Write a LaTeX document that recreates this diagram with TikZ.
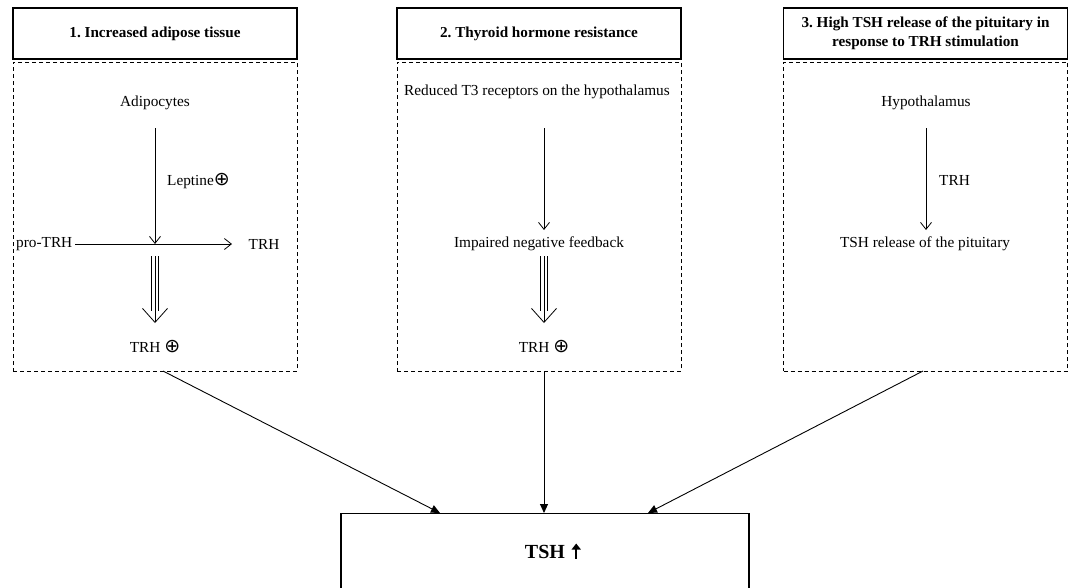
\documentclass[tikz,border=0pt]{standalone}
\usepackage{fontspec}
\setmainfont{Liberation Serif}
\newfontfamily\djv{DejaVu Sans}
\usetikzlibrary{arrows.meta}
\frenchspacing
\tikzset{
  titlebox/.style={draw, line width=1.1pt, minimum width=284pt, minimum height=51pt, align=center, font=\bfseries\fontsize{15.2}{19.5}\selectfont, inner sep=0pt},
  dashbox/.style={draw, line width=0.9pt, dash pattern=on 4pt off 3pt, minimum width=284pt, minimum height=309pt, inner sep=0pt},
  txt/.style={font=\fontsize{15.3}{18}\selectfont, inner sep=1pt},
  thinarrow/.style={line width=0.8pt, -{Straight Barb[length=7pt,width=11pt]}},
  shaft/.style={line width=0.7pt, double distance=6pt},
  openhead/.style={line width=0.8pt, -{Straight Barb[length=14pt,width=25pt]}},
  bigarrow/.style={line width=0.9pt, -{Triangle[length=9pt,width=8pt]}},
}
\newcommand{\plusc}{{\djv\fontsize{19}{18}\selectfont ⊕}}
\begin{document}
\begin{tikzpicture}[x=1pt,y=-1pt]
\useasboundingbox (0,0) rectangle (1072,587);
% titles
\node[titlebox] (t1) at (155,33.5) {1. Increased adipose tissue};
\node[titlebox] (t2) at (539,33.5) {2. Thyroid hormone resistance};
\node[titlebox] (t3) at (925.5,33.5) {3. High TSH release of the pituitary in\\response to TRH stimulation};
% dashed panels
\node[dashbox] (p1) at (155,216.5) {};
\node[dashbox] (p2) at (539,216.5) {};
\node[dashbox] (p3) at (925.5,216.5) {};
% panel 1
\node[txt] (adi) at (155,103) {Adipocytes};
\node[txt, anchor=base west] (lep) at (166,185) {Leptine\plusc};
\node[txt, anchor=west] (pro) at (15,244) {pro-TRH};
\node[txt] (trh1) at (264,244) {TRH};
\coordinate (x1) at (155,244);
\node[txt, anchor=base] (trhp1) at (155,352) {TRH \plusc};
\draw[thinarrow] (adi.south |- 0,128) -- (x1);
\draw[thinarrow] (pro.east |- 79,244) ++(2,0) -- (232,244);
\coordinate (s1) at (155,256);
\coordinate (e1) at (155,311);
\draw[shaft] (s1) -- (e1);
\draw[openhead] (s1) -- (155,323);
% panel 2
\node[txt] (red) at (537,92) {Reduced T3 receptors on the hypothalamus};
\node[txt] (imp) at (539,244) {Impaired negative feedback};
\node[txt, anchor=base] (trhp2) at (544,352) {TRH \plusc};
\draw[thinarrow] (544,128) coordinate (a2) -- (544,230) coordinate (b2);
\coordinate (s2) at (544,256);
\coordinate (e2) at (544,311);
\draw[shaft] (s2) -- (e2);
\draw[openhead] (s2) -- (544,323) coordinate (h2);
% panel 3
\node[txt] (hyp) at (926,103) {Hypothalamus};
\node[txt, anchor=west] (trh3) at (938,180) {TRH};
\node[txt] (tshr) at (925,244) {TSH release of the pituitary};
\draw[thinarrow] (926,128) coordinate (a3) -- (926,230) coordinate (b3);
% bottom box
\node[draw, line width=1.1pt, minimum width=408pt, minimum height=80pt, inner sep=0pt, anchor=north] (tsh) at (545,513) {};
\node[font=\bfseries\fontsize{20}{22}\selectfont, inner sep=0pt] (tshl) at (545,552) {TSH};
\draw[line width=2.2pt, -{Triangle[length=6pt,width=9pt]}] ([xshift=11pt]tshl.base east) -- ++(0,-15);
% connectors
\coordinate (q1) at (163,371);
\coordinate (q2) at (544,371);
\coordinate (q3) at (923,371);
\draw[bigarrow] (q1) -- (tsh.north -| 440,0);
\draw[bigarrow] (q2) -- (tsh.north -| 544,0);
\draw[bigarrow] (q3) -- (tsh.north -| 648,0);
\end{tikzpicture}
\end{document}
